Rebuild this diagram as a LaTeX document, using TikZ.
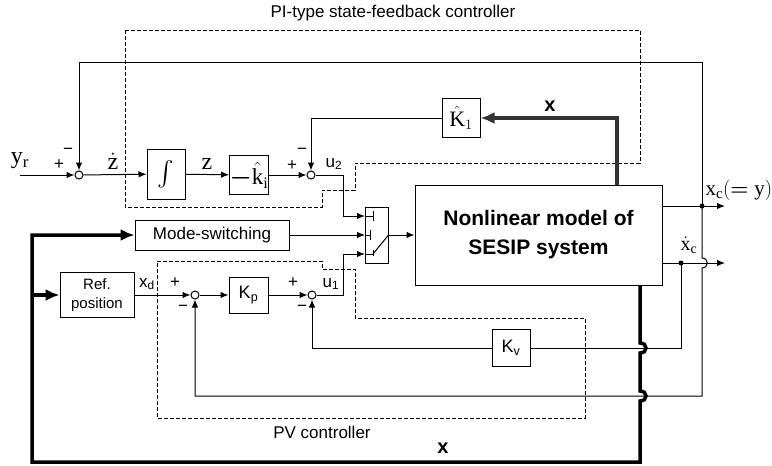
\documentclass[tikz,border=0pt]{standalone}
\usepackage{amsmath}
\usepackage{fontspec}
\setmainfont{Liberation Sans}
\setmathrm{Liberation Serif}
\usepackage{tikz}
\usetikzlibrary{arrows.meta, positioning}

\begin{document}
\begin{tikzpicture}[
  x=1pt, y=-1pt, line width=1pt,
  box/.style={draw, rectangle, inner sep=0pt, font=\fontsize{17}{19}\selectfont, align=center},
  sumpt/.style={draw, circle, inner sep=0pt, minimum size=8pt},
  arr/.style={-{Latex[length=8pt,width=6.5pt]}},
  bus/.style={line width=3.5pt, -{Latex[length=14pt,width=12pt]}},
  ctrl/.style={dashed, dash pattern=on 4pt off 2pt, line width=0.9pt},
  sgn/.style={font=\fontsize{17}{17}\selectfont, inner sep=0pt},
  lbl/.style={font=\fontsize{17}{19}\selectfont, inner sep=0pt},
  mlbl/.style={font=\fontsize{24}{26}\selectfont, inner sep=0pt},
  dot/.style={circle, fill, inner sep=0pt, minimum size=5pt},
]
  \useasboundingbox (0,0) rectangle (772,466);

  % controller outlines
  \draw[ctrl] (125,30) -- (640,30) -- (640,163) -- (355,163) -- (355,190) -- (322,190) -- (322,207) -- (125,207) -- cycle;
  \draw[ctrl] (157,261) -- (322,261) -- (322,269) -- (355,269) -- (355,318) -- (585,318) -- (585,418) -- (157,418) -- cycle;
  \node[lbl] (pititle) at (393,13) {PI-type state-feedback controller};
  \node[lbl] (pvtitle) at (322,432) {PV controller};

  % PI branch
  \coordinate (yrin) at (20,175);
  \node[sumpt] (sa) at (79,175) {};
  \node[box, minimum width=38pt, minimum height=50pt, font=\fontsize{28}{30}\selectfont] (integ) at (166,174) {$\int$};
  \node[box, minimum width=38pt, minimum height=39pt, font=\fontsize{23}{25}\selectfont] (kib) at (249,175) {$\boldsymbol{-}\hat{\mathrm{k}}_{\mathrm{i}}$};
  \node[sumpt] (sb) at (311,175) {};
  \node[box, minimum width=38pt, minimum height=39pt, font=\fontsize{22}{24}\selectfont] (K1) at (461,118) {$\hat{\mathrm{K}}_{1}$};

  \draw[arr] (yrin) -- (sa);
  \draw[arr] (sa) -- (integ);
  \draw[arr] (integ) -- (kib);
  \draw[arr] (kib) -- (sb);
  \draw[arr] (K1.west) -| (sb.north);
  \node[mlbl] (yrlbl) at (20,161) {$\mathrm{y}_{\mathrm{r}}$};
  \node[sgn] (sap) at (59,165) {+};
  \node[sgn] (sam) at (68,151) {−};
  \node[mlbl] (zdot) at (113,161) {$\dot{\mathrm{z}}$};
  \node[mlbl] (zlbl) at (207,164) {$\mathrm{z}$};
  \node[sgn] (sbp) at (292,166) {+};
  \node[sgn] (sbm) at (302,151) {−};
  \node[lbl] (u2) at (334,164) {u\textsubscript{2}};

  % switch and plant
  \node[box, minimum width=23pt, minimum height=56pt] (sw) at (376.5,235) {};
  \coordinate (swa) at (365,216);
  \coordinate (swb) at (365,235);
  \coordinate (swc) at (365,254);
  \draw (swa) -- ++(8,0) ++(0,-5) -- ++(0,10);
  \draw (swb) -- ++(5,0) ++(0,-5) -- ++(0,10);
  \draw (swc) -- ++(8,0) ++(0,-4) -- ++(0,6);
  \draw (373,254) -- (sw.east);
  \node[box, minimum width=247pt, minimum height=100pt, font=\bfseries\fontsize{21}{29}\selectfont] (plant) at (538.5,235) {Nonlinear model of\\SESIP system};
  \draw[arr] (sw.east) -- (plant.west);
  \draw[arr] (sb.east) -- ++(28,0) |- (swa);

  % state feedback to K1
  \coordinate (xtap) at (617,185);
  \draw[bus, black!80] (xtap) |- (K1.east);
  \node[font=\bfseries\fontsize{20}{20}\selectfont] (xtop) at (550,106) {x};

  % outputs
  \coordinate (ytap) at (702,206);
  \coordinate (vtap) at (681,263);
  \draw[arr] (plant.east |- ytap) -- (725,206);
  \draw[arr] (plant.east |- vtap) -- (725,263);
  \node[dot] (ydot) at (ytap) {};
  \node[dot] (vdot) at (vtap) {};
  \node[mlbl, anchor=west, font=\fontsize{21}{23}\selectfont] (yclbl) at (705,190) {$\mathrm{x}_{\mathrm{c}}(\boldsymbol{=}\mathrm{y})$};
  \node[mlbl, font=\fontsize{20}{22}\selectfont] (vclbl) at (689,245) {$\dot{\mathrm{x}}_{\mathrm{c}}$};

  % PV branch
  \node[box, minimum width=154pt, minimum height=30pt] (mode) at (212,235) {Mode-switching};
  \node[box, minimum width=74pt, minimum height=45pt, font=\fontsize{15}{19}\selectfont] (ref) at (97,295) {Ref.\\position};
  \node[sumpt] (sc) at (195,295) {};
  \node[box, minimum width=39pt, minimum height=36pt, font=\fontsize{18}{20}\selectfont] (Kp) at (248.5,295) {K\textsubscript{p}};
  \node[sumpt] (sd) at (312,295) {};
  \node[box, minimum width=38pt, minimum height=37pt, font=\fontsize{18}{20}\selectfont] (Kv) at (511,348) {K\textsubscript{v}};

  \draw[arr] (mode.east) -- (swb);
  \draw[arr] (ref) -- (sc);
  \draw[arr] (sc) -- (Kp);
  \draw[arr] (Kp) -- (sd);
  \draw[arr] (sd.east) -- ++(27,0) |- (swc);
  \node[lbl] (xdlbl) at (147,284) {x\textsubscript{d}};
  \node[sgn] (scp) at (175,283) {+};
  \node[sgn] (scm) at (183,308) {−};
  \node[sgn] (sdp) at (293,283) {+};
  \node[sgn] (sdm) at (302,308) {−};
  \node[lbl] (u1) at (331,284) {u\textsubscript{1}};

  % feedback loops
  \draw[arr] (ytap) -- (702,62) -| (sa.north);
  \draw[arr] (ytap) -- (702,258) .. controls (709,258) and (709,268) .. (702,268) -- (702,396) -| (sc.south);
  \draw (vtap) |- (Kv.east);
  \draw[arr] (Kv.west) -| (sd.south);

  % state bus to references
  \coordinate (xbot) at (640,285);
  \draw[bus] (xbot) -- (640,343) .. controls (648,343) and (648,353) .. (640,353) -- (640,391) .. controls (648,391) and (648,401) .. (640,401) -- (640,462) -- (32,462) |- (mode.west);
  \draw[bus] (32,295) -- (ref.west);
  \node[font=\bfseries\fontsize{20}{20}\selectfont] (xbotlbl) at (443,448) {x};
\end{tikzpicture}
\end{document}
